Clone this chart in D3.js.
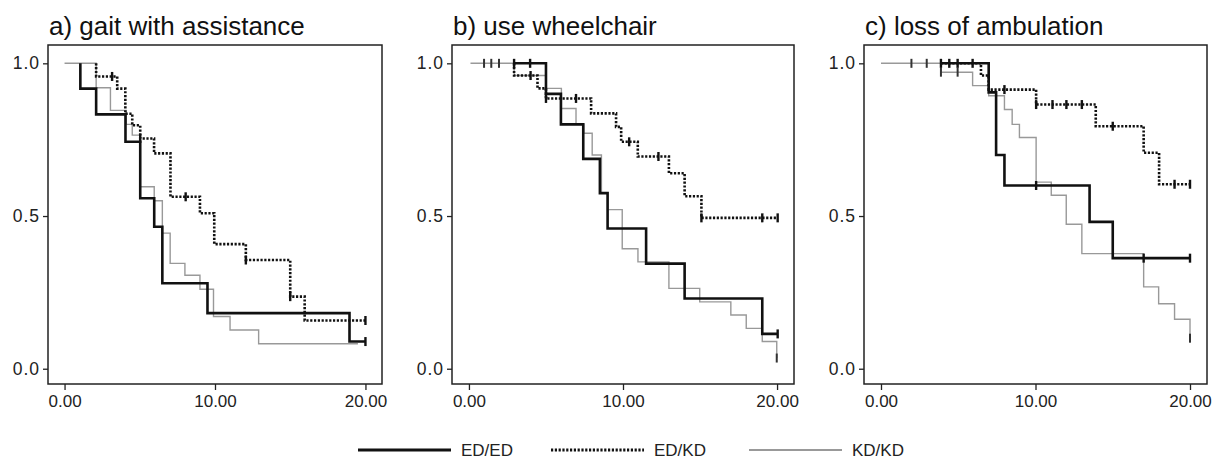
<!DOCTYPE html>
<html>
<head>
<meta charset="utf-8">
<script src="https://cdn.jsdelivr.net/npm/d3@7"></script>
<style>
  body { margin: 0; background: #fff; }
  svg { display: block; font-family: "Liberation Sans", Arial, sans-serif; }
</style>
</head>
<body>
<svg id="chart" width="1214" height="462"></svg>
<script>
// series names (legend order)
const seriesNames = ["ED/ED", "ED/KD", "KD/KD"];
const panelTitles = ["a) gait with assistance", "b) use wheelchair", "c) loss of ambulation"];
const xTicks = [0, 10, 20];
const xTickLabels = ["0.00", "10.00", "20.00"];
const yTicks = [0, 0.5, 1];
const yTickLabels = ["0.0", "0.5", "1.0"];

// Kaplan-Meier knots: [time, survival from this time on]
// a) gait with assistance
const gaitEDED = [[1.05,1],[1.05,0.917],[2.1,0.833],[4.05,0.743],[5.03,0.558],[5.96,0.465],[6.5,0.28],[9.5,0.182],[18.94,0.089],[20,0.089]];
const gaitEDKD = [[2.1,1],[2.1,0.957],[3.5,0.917],[4.04,0.835],[4.5,0.797],[5.03,0.754],[5.95,0.705],[7.04,0.563],[9.0,0.509],[9.95,0.408],[12.05,0.356],[15.0,0.236],[15.96,0.158],[20,0.158]];
const gaitKDKD = [[0,1],[2.1,0.92],[3.05,0.846],[4.1,0.80],[4.5,0.765],[5.03,0.596],[5.96,0.55],[6.5,0.444],[7.02,0.345],[8.0,0.306],[9.0,0.26],[9.9,0.171],[11.0,0.127],[12.9,0.082],[19.5,0.082]];
const gaitEDEDcens = [20];
const gaitEDKDcens = [3.16, 5.03, 8.05, 12.05, 15.0, 20];
const gaitKDKDcens = [];

// b) use wheelchair
const chairEDED = [[2.93,1],[5.0,0.90],[5.97,0.80],[7.42,0.687],[8.5,0.575],[9.0,0.459],[11.5,0.344],[14.0,0.23],[19.04,0.114],[20.04,0.114]];
const chairEDKD = [[2.93,1],[2.93,0.96],[4.45,0.918],[5.0,0.885],[7.93,0.836],[9.55,0.792],[9.88,0.743],[10.96,0.695],[12.98,0.64],[14.0,0.565],[15.09,0.494],[20.04,0.494]];
const chairKDKD = [[0.1,1],[2.93,0.96],[5.0,0.918],[6.0,0.852],[6.95,0.80],[7.45,0.771],[8.0,0.70],[8.6,0.575],[9.0,0.521],[9.95,0.393],[10.97,0.35],[12.98,0.263],[14.98,0.219],[17.0,0.176],[18.0,0.132],[19.04,0.089],[19.98,0.035],[19.98,0.035]];
const chairEDEDcens = [2.93, 3.97, 20.04];
const chairEDKDcens = [4.0, 5.0, 6.95, 10.4, 12.3, 15.09, 19.04, 20.04];
const chairKDKDcens = [0.98, 1.45, 1.95, 19.98];

// c) loss of ambulation
const ambEDED = [[3.88,1],[6.97,0.905],[7.45,0.70],[7.99,0.60],[13.5,0.481],[15.0,0.362],[20,0.362]];
const ambEDKD = [[3.88,1],[6.47,0.96],[6.97,0.914],[10.04,0.865],[13.9,0.794],[17.0,0.707],[18.0,0.604],[20,0.604]];
const ambKDKD = [[0,1],[3.88,0.971],[5.93,0.927],[6.97,0.894],[7.99,0.849],[8.49,0.80],[8.96,0.757],[10.04,0.611],[11.02,0.568],[11.99,0.473],[13.0,0.377],[17.0,0.268],[17.97,0.213],[19.0,0.162],[20,0.10],[20,0.10]];
const ambEDEDcens = [3.88, 4.42, 4.96, 5.93, 10.04, 17.0, 20];
const ambEDKDcens = [7.99, 10.04, 11.1, 12.0, 13.0, 15.0, 19.0, 20];
const ambKDKDcens = [1.97, 2.96, 3.88, 4.96, 20];

const panels = [
  { title: panelTitles[0], left: 48,  width: 334, curves: [gaitEDED, gaitEDKD, gaitKDKD], cens: [gaitEDEDcens, gaitEDKDcens, gaitKDKDcens] },
  { title: panelTitles[1], left: 452, width: 342, curves: [chairEDED, chairEDKD, chairKDKD], cens: [chairEDEDcens, chairEDKDcens, chairKDKDcens] },
  { title: panelTitles[2], left: 864, width: 343, curves: [ambEDED, ambEDKD, ambKDKD], cens: [ambEDEDcens, ambEDKDcens, ambKDKDcens] }
];

const styles = [
  { stroke: "#111", width: 2.6, dash: null, tick: "#111", tickW: 2.4 },
  { stroke: "#111", width: 2.6, dash: "2.2,1.6", tick: "#111", tickW: 2.4 },
  { stroke: "#999", width: 1.4, dash: null, tick: "#333", tickW: 2 }
];
const drawOrder = [2, 1, 0];

const svg = d3.select("#chart");
const plotTop = 45, plotBottom = 384;

function stepValue(curve, t) {
  let v = curve[0][1];
  curve.forEach(p => { if (p[0] <= t + 1e-9) v = p[1]; });
  return v;
}

panels.forEach(p => {
  const x = d3.scaleLinear().domain([-1.1, 21.1]).range([p.left, p.left + p.width]);
  const y = d3.scaleLinear().domain([-0.05, 1.06]).range([plotBottom, plotTop]);
  const g = svg.append("g");

  g.append("text")
    .attr("x", p.left + 1).attr("y", 35)
    .attr("font-size", 26).attr("fill", "#111")
    .text(p.title);

  // axes
  const xAxis = d3.axisBottom(x).tickValues(xTicks).tickSize(6).tickPadding(5)
    .tickFormat((d, i) => xTickLabels[i]);
  const gx = g.append("g").attr("transform", `translate(0,${plotBottom})`).call(xAxis);
  const yAxis = d3.axisLeft(y).tickValues(yTicks).tickSize(5).tickPadding(3)
    .tickFormat((d, i) => yTickLabels[i]);
  const gy = g.append("g").attr("transform", `translate(${p.left},0)`).call(yAxis);
  [gx, gy].forEach(a => {
    a.select(".domain").remove();
    a.selectAll(".tick line").attr("stroke", "#222").attr("stroke-width", 1.3);
    a.selectAll(".tick text").attr("fill", "#222")
      .attr("font-family", "'Liberation Sans', Arial, sans-serif");
  });
  gx.selectAll(".tick text").attr("font-size", 17);
  gy.selectAll(".tick text").attr("font-size", 17.5).attr("letter-spacing", 1);

  g.append("rect")
    .attr("x", p.left).attr("y", plotTop)
    .attr("width", p.width).attr("height", plotBottom - plotTop)
    .attr("fill", "none").attr("stroke", "#222").attr("stroke-width", 1.5);

  const line = d3.line().x(d => x(d[0])).y(d => y(d[1])).curve(d3.curveStepAfter);

  drawOrder.forEach(i => {
    const s = styles[i];
    g.append("path")
      .attr("d", line(p.curves[i]))
      .attr("fill", "none")
      .attr("stroke", s.stroke)
      .attr("stroke-width", s.width)
      .attr("stroke-dasharray", s.dash);
    g.selectAll(null).data(p.cens[i]).enter().append("line")
      .attr("x1", d => x(d)).attr("x2", d => x(d))
      .attr("y1", d => y(stepValue(p.curves[i], d)) - 4.5)
      .attr("y2", d => y(stepValue(p.curves[i], d)) + 4.5)
      .attr("stroke", s.tick).attr("stroke-width", s.tickW);
  });
});

// legend
const legendX = [358, 551, 749];
const legendLen = 93;
const legendY = 450;
seriesNames.forEach((name, i) => {
  const s = styles[i];
  svg.append("line")
    .attr("x1", legendX[i]).attr("x2", legendX[i] + legendLen)
    .attr("y1", legendY).attr("y2", legendY)
    .attr("stroke", s.stroke).attr("stroke-width", i === 2 ? 2.2 : 3)
    .attr("stroke-dasharray", s.dash);
  svg.append("text")
    .attr("x", legendX[i] + legendLen + 10)
    .attr("y", legendY + 6)
    .attr("font-size", 17).attr("fill", "#222")
    .text(name);
});
</script>
</body>
</html>
